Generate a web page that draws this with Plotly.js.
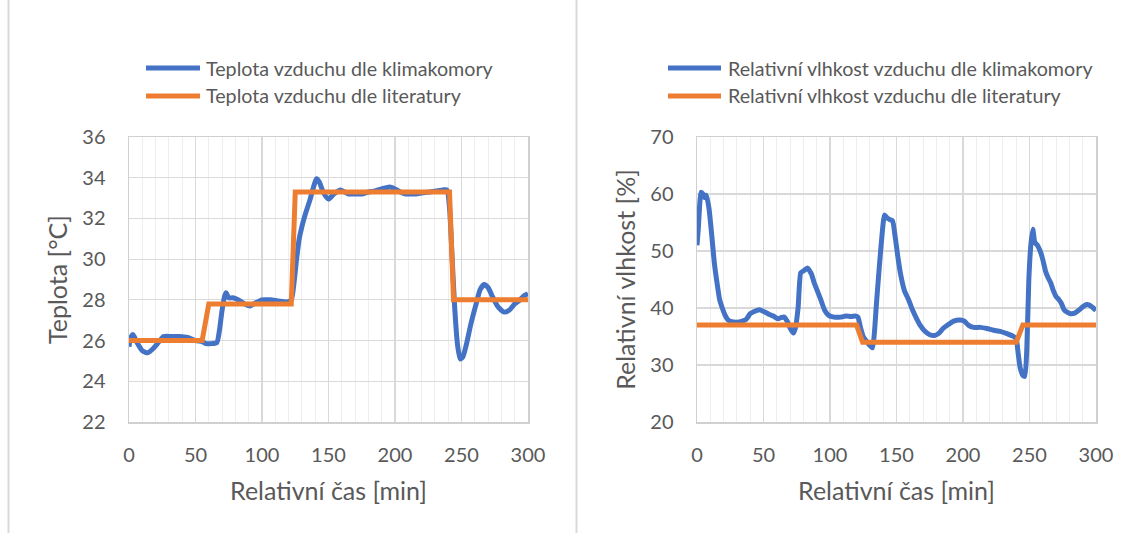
<!DOCTYPE html>
<html>
<head>
<meta charset="utf-8">
<script src="https://cdn.plot.ly/plotly-3.0.1.min.js"></script>
<style>
html,body{margin:0;padding:0;background:#fff;}
#chart{width:1131px;height:533px;}
</style>
</head>
<body>
<div id="chart"></div>
<script>
// ---- Left chart: Temperature ----
const tempTime = [0,1,3,6,10,14,18,22,26,32,38,44,50,55,58,62,66,68,70,72,73,75,78,82,87,91,95,100,106,112,119,122,124,126,128,130,133,136,139,141,143,146,150,154,159,165,170,175,180,185,190,196,200,204,208,212,216,220,226,231,236,239,241,243,245,247,249,251,254,257,261,264,267,270,273,277,282,286,290,294,297,300];
const tempChamber = [25.7,26.1,26.3,25.9,25.5,25.4,25.6,25.9,26.2,26.2,26.2,26.15,26.0,25.95,25.85,25.85,25.9,26.5,27.5,28.2,28.35,28.1,28.1,28.0,27.8,27.7,27.85,28.0,28.0,27.95,27.9,28.0,28.8,30.0,31.0,31.6,32.3,32.9,33.6,33.95,33.8,33.3,32.95,33.2,33.4,33.2,33.2,33.2,33.3,33.35,33.45,33.55,33.45,33.3,33.2,33.2,33.2,33.25,33.3,33.35,33.4,33.4,32.5,30.0,27.5,25.8,25.1,25.2,25.9,26.8,27.8,28.5,28.75,28.6,28.2,27.7,27.4,27.5,27.8,28.0,28.2,28.3];
const tempLitTime = [0,55,60,122,125,241,244,300];
const tempLit = [26,26,27.8,27.8,33.3,33.3,28,28];

// ---- Right chart: Relative humidity ----
const rhTime = [0,1,2,3,4.5,5.5,7,9,11,13,15,17,19,21,23,26,30,34,37,40,43,47,51,55,58,61,63,65.5,68,70,72.5,74,76,78,80,83,86,88,90,93,96,99,103,108,112,116,119,121,123,125,128,130,132,133.5,135,137,139,141,143,145,147,149,151,153,156,159,162,165,168,171,175,179,182,185,189,193,198,201,204,208,213,218,223,228,233,238,240,241.5,243,245,246.5,248,249.5,251,252.5,254,256,258,260,262,264,266,268,270,272,274,276,278,281,284,287,290,293,295,297.5,300];
const rhChamber = [51.0,54,58,60.3,60.0,59.4,59.8,57.5,53,48,44.5,41.5,40,38.8,38.0,37.6,37.5,37.7,38.0,39.0,39.4,39.7,39.3,38.8,38.5,38.1,38.3,38.4,37.6,36.5,35.6,36.5,40,46.2,46.5,47.0,46.0,44.5,43.3,41.5,39.6,38.7,38.4,38.4,38.6,38.5,38.6,38.4,36.5,35.0,34.0,33.4,33.0,36,41,47,52.5,56.3,55.8,55.5,55.3,52.5,49,46,43,41.5,39.7,38.2,36.9,36.0,35.3,35.2,35.6,36.4,37.1,37.7,37.9,37.7,37.0,36.6,36.6,36.4,36.1,35.9,35.5,35.0,34.6,32,29.5,28.2,28.0,33,45,51,53.8,51.5,51.0,50.0,48.5,46.5,45.3,44.4,43.0,42.0,41.5,40.8,39.7,39.3,39.0,39.1,39.6,40.2,40.6,40.5,40.1,39.6];
const rhLitTime = [0,120,124.5,240,245,300];
const rhLit = [37,37,34,34,37,37];

// ---- Texts ----
const leftNames = ["Teplota vzduchu dle klimakomory","Teplota vzduchu dle literatury"];
const rightNames = ["Relativní vlhkost vzduchu dle klimakomory","Relativní vlhkost vzduchu dle literatury"];
const xTitle = "Relativní čas [min]";
const yTitleLeft = "Teplota [°C]";
const yTitleRight = "Relativní vlhkost [%]";

const BLUE = "#4472C4", ORANGE = "#ED7D31";
const FONT = "Lato, 'Open Sans', sans-serif";
const TXT = "#595959";
const W = 1131, H = 533;
const px = v => v / W;
const py = v => 1 - v / H;

const traces = [
  {x: tempTime, y: tempChamber, xaxis:'x', yaxis:'y', mode:'lines', name: leftNames[0], line:{color:BLUE, width:5, shape:'spline', smoothing:0.6}, showlegend:false},
  {x: tempLitTime, y: tempLit, xaxis:'x', yaxis:'y', mode:'lines', name: leftNames[1], line:{color:ORANGE, width:5}, showlegend:false},
  {x: rhTime, y: rhChamber, xaxis:'x2', yaxis:'y2', mode:'lines', name: rightNames[0], line:{color:BLUE, width:5, shape:'spline', smoothing:0.5}, showlegend:false},
  {x: rhLitTime, y: rhLit, xaxis:'x2', yaxis:'y2', mode:'lines', name: rightNames[1], line:{color:ORANGE, width:5}, showlegend:false}
];

function xAxis(domain, anchor){
  return {
    domain: domain, anchor: anchor, range:[0,300], tickvals:[0,50,100,150,200,250,300],
    showgrid:true, gridcolor:'#D9D9D9', gridwidth:1.2,
    minor:{dtick:10, tick0:0, showgrid:true, gridcolor:'#EEEEEE', gridwidth:1},
    showline:true, linecolor:'#D0D0D0', linewidth:1.5, mirror:true,
    zeroline:false, ticks:'outside', ticklen:14, tickcolor:'rgba(0,0,0,0)',
    tickfont:{family:FONT, size:20, color:TXT},
    title:{text:xTitle, font:{family:FONT, size:25, color:TXT}, standoff:18},
    fixedrange:true
  };
}
function yAxis(domain, anchor, range, dtick, title){
  return {
    domain: domain, anchor: anchor, range: range, dtick: dtick, tick0: range[0],
    showgrid:true, gridcolor:'#D9D9D9', gridwidth:1.2,
    showline:true, linecolor:'#D0D0D0', linewidth:1.5, mirror:true,
    zeroline:false, ticks:'outside', ticklen:18, tickcolor:'rgba(0,0,0,0)',
    tickfont:{family:FONT, size:20, color:TXT},
    title:{text:title, font:{family:FONT, size:25, color:TXT}, standoff:7},
    fixedrange:true
  };
}

const ydom = [py(422), py(137)];

const legFont = {family:FONT, size:19.7, color:TXT};

const layout = {
  width: W, height: H,
  margin:{l:0,r:0,t:0,b:0},
  paper_bgcolor:'#fff', plot_bgcolor:'#fff',
  showlegend:false,
  xaxis: xAxis([px(129), px(528)], 'y'),
  yaxis: yAxis(ydom, 'x', [22,36], 2, yTitleLeft),
  xaxis2: xAxis([px(697), px(1096)], 'y2'),
  yaxis2: yAxis(ydom, 'x2', [20,70], 10, yTitleRight),
  shapes: [
    // chart frame separators
    {type:'line', xref:'paper', yref:'paper', x0:px(8.5), x1:px(8.5), y0:0, y1:1, line:{color:'#D9D9D9', width:2}},
    {type:'line', xref:'paper', yref:'paper', x0:px(576.5), x1:px(576.5), y0:0, y1:1, line:{color:'#D9D9D9', width:2}},
    // legend swatches
    {type:'line', xref:'paper', yref:'paper', x0:px(146), x1:px(200), y0:py(68), y1:py(68), line:{color:BLUE, width:5}},
    {type:'line', xref:'paper', yref:'paper', x0:px(146), x1:px(200), y0:py(96), y1:py(96), line:{color:ORANGE, width:5}},
    {type:'line', xref:'paper', yref:'paper', x0:px(668), x1:px(721), y0:py(68), y1:py(68), line:{color:BLUE, width:5}},
    {type:'line', xref:'paper', yref:'paper', x0:px(668), x1:px(721), y0:py(96), y1:py(96), line:{color:ORANGE, width:5}}
  ],
  annotations: [
    {xref:'paper', yref:'paper', x:px(204), y:py(68), xanchor:'left', yanchor:'middle', showarrow:false, text:leftNames[0], font:legFont},
    {xref:'paper', yref:'paper', x:px(204), y:py(96), xanchor:'left', yanchor:'middle', showarrow:false, text:leftNames[1], font:legFont},
    {xref:'paper', yref:'paper', x:px(726), y:py(68), xanchor:'left', yanchor:'middle', showarrow:false, text:rightNames[0], font:legFont},
    {xref:'paper', yref:'paper', x:px(726), y:py(96), xanchor:'left', yanchor:'middle', showarrow:false, text:rightNames[1], font:legFont}
  ]
};

Plotly.newPlot('chart', traces, layout, {staticPlot:true, displayModeBar:false});
</script>
</body>
</html>
